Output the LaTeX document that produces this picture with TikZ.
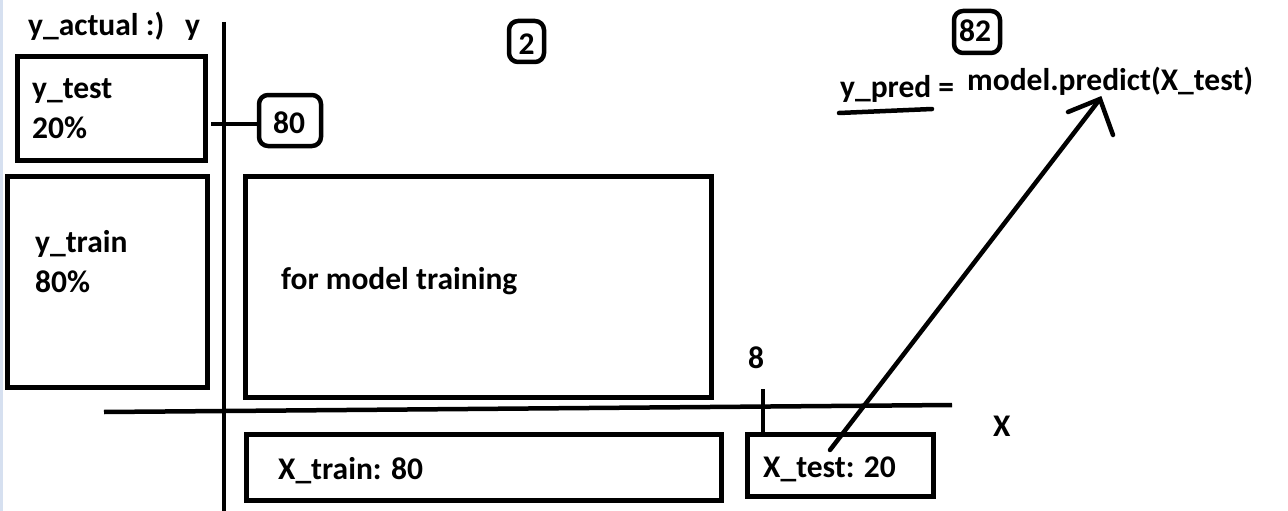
\documentclass[tikz,border=0pt]{standalone}
\usepackage{fontspec}
\setmainfont{Carlito}
\definecolor{edgeblue}{RGB}{214,224,240}
\begin{document}
\begin{tikzpicture}[x=1pt,y=-1pt,
  every node/.style={font=\fontsize{31.5}{36}\selectfont\bfseries},
  box/.style={draw, line width=5pt, inner sep=0pt, rectangle},
  rbox/.style={draw, line width=4.5pt, inner sep=0pt, rectangle, rounded corners=9pt},
  lbl/.style={inner sep=0pt, anchor=base west},
  stroke/.style={line width=4.5pt},
  pen/.style={line width=4.5pt, line cap=round}]
\useasboundingbox (0,0) rectangle (1288,511);
\fill[edgeblue] (0,0) rectangle (3,511);

% boxes
\node[box, minimum width=187.5pt, minimum height=103.5pt] (ytest) at (111.25,108.25) {};
\node[box, minimum width=199.5pt, minimum height=210.5pt] (ytrain) at (107.25,281.75) {};
\node[box, minimum width=466pt, minimum height=221pt] (train) at (478,286.5) {};
\node[box, minimum width=475pt, minimum height=66pt] (xtrain) at (483.5,467) {};
\node[box, minimum width=186pt, minimum height=62pt] (xtest) at (840,465) {};

% rounded number boxes
\node[rbox, minimum width=35pt, minimum height=41pt] (b2) at (526.5,41.5) {};
\node[rbox, minimum width=62pt, minimum height=51pt] (b80) at (290,120.5) {};
\node[rbox, minimum width=46pt, minimum height=42pt] (b82) at (977,32) {};
\node[lbl, anchor=base] (t2) at (526.5,55) {2};
\node[lbl, anchor=base] (t80) at (289,133) {80};
\node[lbl, anchor=base] (t82) at (975,42) {82};

% texts
\node[lbl] (yactual) at (28,36) {y\_actual :)};
\node[lbl] (ylab) at (185,36) {y};
\node[lbl] (ytesttxt) at (32,99) {y\_test};
\node[lbl] (ytestpct) at (32,138) {20\%};
\node[lbl] (ytraintxt) at (35,252) {y\_train};
\node[lbl] (ytrainpct) at (35,292) {80\%};
\node[lbl] (traintxt) at (281,289) {for model training};
\node[lbl] (xtraintxt) at (278,479) {X\_train: 80};
\node[lbl] (xtesttxt) at (763,477) {X\_test: 20};
\node[lbl] (eight) at (748,368) {8};
\node[lbl] (xlab) at (993,436) {X};
\node[lbl] (ypred) at (840,98) {y\_pred =};
\node[lbl] (predict) at (967,90) {model.predict(X\_test)};

% axes
\coordinate (vtop) at (224,22);
\coordinate (vbot) at (224,511);
\coordinate (hleft) at (104,412);
\coordinate (hright) at (952,405);
\draw[stroke] (vtop) -- (vbot);
\draw[stroke] (hleft) -- (hright);

% link to 80
\coordinate (l80) at (211,124);
\draw[stroke] (l80) -- (b80.west |- l80);

% tick for 8
\coordinate (t8) at (763,389);
\draw[stroke] (t8) -- (t8 |- xtest.north);

% underline y_pred
\coordinate (ul1) at (839,113);
\coordinate (ul2) at (932,109);
\draw[pen] (ul1) -- (ul2);

% arrow from X_test to predict
\coordinate (astart) at (830,450);
\coordinate (tip) at (1100,99);
\coordinate (hl) at (1068,112);
\coordinate (hr) at (1113,135);
\draw[pen] (astart) -- (tip);
\draw[pen] (hl) -- (tip) -- (hr);
\end{tikzpicture}
\end{document}
